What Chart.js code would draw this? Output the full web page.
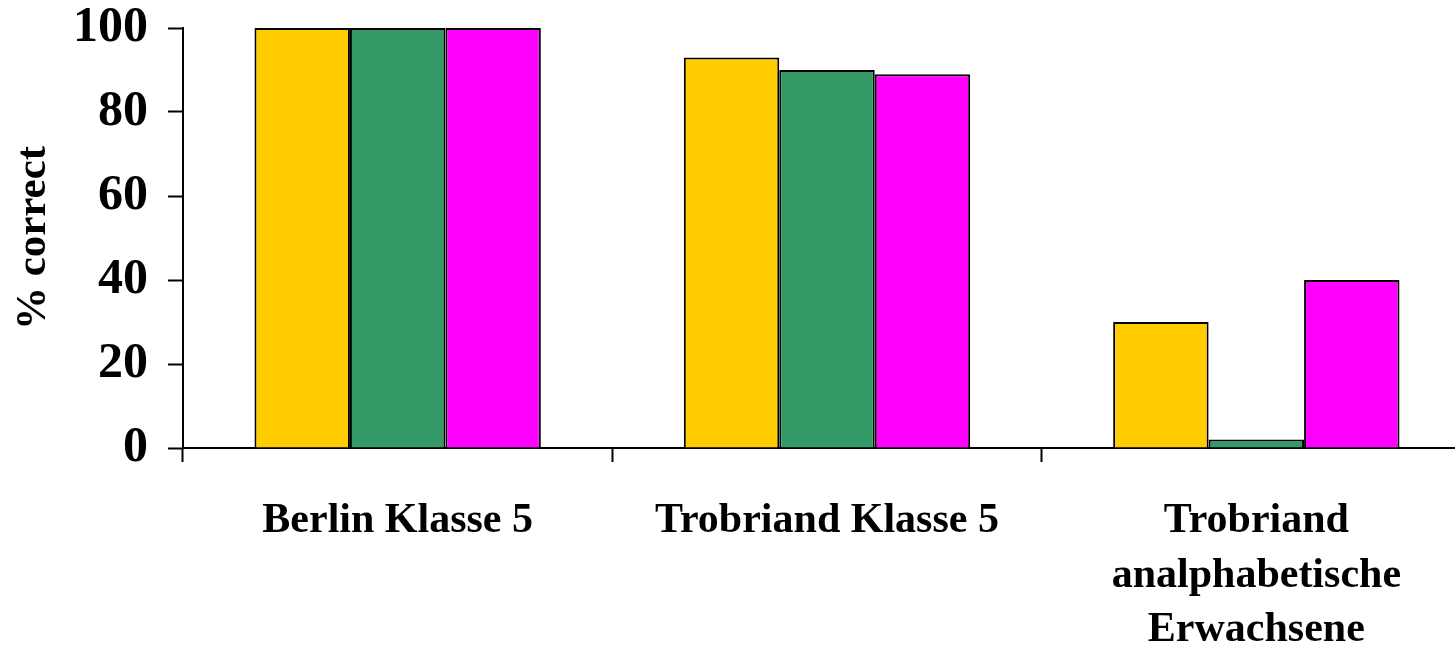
<!DOCTYPE html>
<html>
<head>
<meta charset="utf-8">
<script src="https://cdn.jsdelivr.net/npm/chart.js@4/dist/chart.umd.min.js"></script>
<style>
    html, body { margin: 0; padding: 0; background: #fff; overflow: hidden; }
    #wrap { position: relative; width: 1472px; height: 651px; }
</style>
</head>
<body>
<div id="wrap"><canvas id="chart"></canvas></div>
<script>
// data
const categories = ['Berlin Klasse 5', 'Trobriand Klasse 5', ['Trobriand', 'analphabetische', 'Erwachsene']];
const seriesYellow = [100, 93, 30];
const seriesGreen = [100, 90, 2];
const seriesMagenta = [100, 89, 40];
const yTicks = [0, 20, 40, 60, 80, 100];

const serif = "'Liberation Serif', 'Times New Roman', serif";

const makeSet = (label, data, color) => ({
    label: label,
    data: data,
    backgroundColor: color,
    borderColor: '#000',
    borderWidth: 2,
    borderSkipped: 'bottom',
    categoryPercentage: 0.667,
    barPercentage: 1.0
});

new Chart(document.getElementById('chart'), {
    type: 'bar',
    data: {
        labels: categories,
        datasets: [
            makeSet('1', seriesYellow, '#FFCC00'),
            makeSet('2', seriesGreen, '#339966'),
            makeSet('3', seriesMagenta, '#FF00FF')
        ]
    },
    options: {
        responsive: true,
        maintainAspectRatio: false,
        animation: false,
        layout: { padding: { top: 28, right: 1, bottom: 0, left: 0 } },
        plugins: {
            legend: { display: false },
            tooltip: { enabled: false }
        },
        scales: {
            x: {
                grid: {
                    offset: true,
                    drawOnChartArea: false,
                    drawTicks: true,
                    tickLength: 14,
                    tickWidth: 2,
                    tickColor: '#000'
                },
                border: { color: '#000', width: 2 },
                ticks: {
                    color: '#000',
                    padding: 32,
                    maxRotation: 0,
                    autoSkip: false,
                    font: { family: serif, size: 42, weight: 'bold', lineHeight: 1.3 }
                },
                afterFit: (scale) => { scale.height = 203; }
            },
            y: {
                min: 0,
                max: 100,
                afterBuildTicks: (scale) => { scale.ticks = yTicks.map(v => ({ value: v })); },
                grid: {
                    drawOnChartArea: false,
                    drawTicks: true,
                    tickLength: 15,
                    tickWidth: 2,
                    tickColor: '#000'
                },
                border: { color: '#000', width: 2 },
                ticks: {
                    color: '#000',
                    padding: 20,
                    font: { family: serif, size: 50, weight: 'bold', lineHeight: 1.0 }
                },
                title: {
                    display: true,
                    text: '% correct',
                    color: '#000',
                    padding: { top: 12, bottom: 0 },
                    font: { family: serif, size: 43, weight: 'bold', lineHeight: 1.0 }
                },
                afterFit: (scale) => {
                    scale.width = 183;
                    scale.paddingTop = 28;
                }
            }
        }
    }
});
</script>
</body>
</html>
